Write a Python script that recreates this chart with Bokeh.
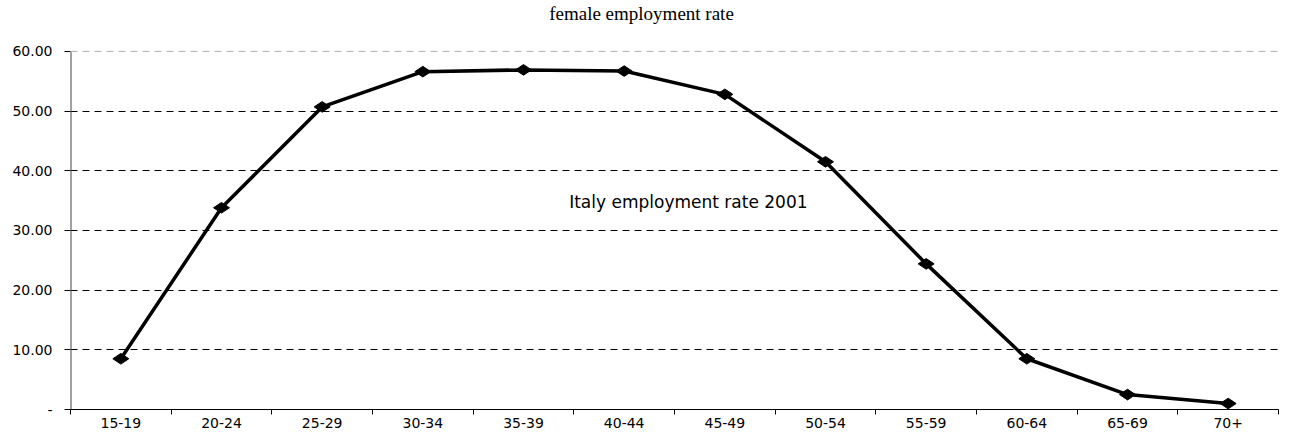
import math
from bokeh.plotting import figure
from bokeh.models import (Range1d, FixedTicker, CustomJSTickFormatter, Span, Label)
from bokeh.core.properties import value
from bokeh.embed import file_html
from bokeh.resources import INLINE

categories = ["15-19", "20-24", "25-29", "30-34", "35-39", "40-44",
              "45-49", "50-54", "55-59", "60-64", "65-69", "70+"]
rates = [8.5, 33.8, 50.7, 56.6, 56.9, 56.7, 52.8, 41.5, 24.4, 8.5, 2.5, 1.0]
y_ticks = [0, 10, 20, 30, 40, 50, 60]
title_text = "female employment rate"
note_text = "Italy employment rate 2001"

xs = [i + 0.5 for i in range(len(categories))]

# frame spans page y 3..410; the value axis 0..60 occupies 410..51
y_top = y_ticks[-1] * (410 - 3) / (410 - 51)
px_per_unit = (410 - 51) / y_ticks[-1]

p = figure(width=1283, height=430, output_backend="svg", toolbar_location=None,
           x_range=Range1d(0, len(categories)), y_range=Range1d(0, y_top),
           min_border_left=70, min_border_right=5, min_border_top=3,
           min_border_bottom=20)
p.outline_line_color = None
p.background_fill_color = "white"
p.border_fill_color = "white"

p.add_layout(Label(x=len(categories) / 2, y=y_ticks[-1] + 38 / px_per_unit,
                   x_offset=-33, text=title_text,
                   text_align="center", text_baseline="middle",
                   text_font="Liberation Serif", text_font_size="19px",
                   text_color="black"))

# x axis
xa = p.xaxis[0]
xa.ticker = FixedTicker(ticks=xs, minor_ticks=list(range(len(categories) + 1)))
xa.major_label_overrides = {x: c for x, c in zip(xs, categories)}
xa.major_tick_line_color = None
xa.minor_tick_line_color = "black"
xa.minor_tick_in = 0
xa.minor_tick_out = 5
xa.axis_line_color = "black"
xa.major_label_text_font = "DejaVu Sans"
xa.major_label_text_font_size = "14px"
xa.major_label_standoff = 2
xa.major_label_text_color = "black"

# y axis (axis line drawn only over 0..60 below)
ya = p.yaxis[0]
ya.ticker = FixedTicker(ticks=y_ticks)
ya.formatter = CustomJSTickFormatter(code="return tick == 0 ? '-' : tick.toFixed(2);")
ya.major_tick_in = 0
ya.major_tick_out = 6
ya.minor_tick_line_color = None
ya.axis_line_color = None
ya.major_tick_line_color = "black"
ya.major_label_text_font = "DejaVu Sans"
ya.major_label_text_font_size = "14px"
ya.major_label_standoff = 12
ya.major_label_text_color = "black"

p.xgrid.grid_line_color = None
p.ygrid.ticker = FixedTicker(ticks=[t for t in y_ticks if 0 < t < 60])
p.ygrid.grid_line_color = "black"
p.ygrid.grid_line_dash = "7 5"
p.ygrid.grid_line_width = 1

p.add_layout(Span(location=y_ticks[-1], dimension="width",
                  line_color="#b0b0b0", line_dash="7 5", line_width=1))

p.segment(x0=[0], y0=[y_ticks[0]], x1=[0], y1=[y_ticks[-1]],
          line_color="#444444", line_width=2)

p.line(xs, rates, line_color="black", line_width=3.5)
p.scatter(xs, rates, marker="diamond", size=16, angle=math.pi / 2,
          fill_color="black", line_color="black")

p.text(x=[xs[5]], y=[34.8], text=[note_text], x_offset=-55,
       text_align="left", text_baseline="middle",
       text_font=value("DejaVu Sans"), text_font_size="17px",
       text_color="black")

open("out.html", "w").write(file_html(p, INLINE))
